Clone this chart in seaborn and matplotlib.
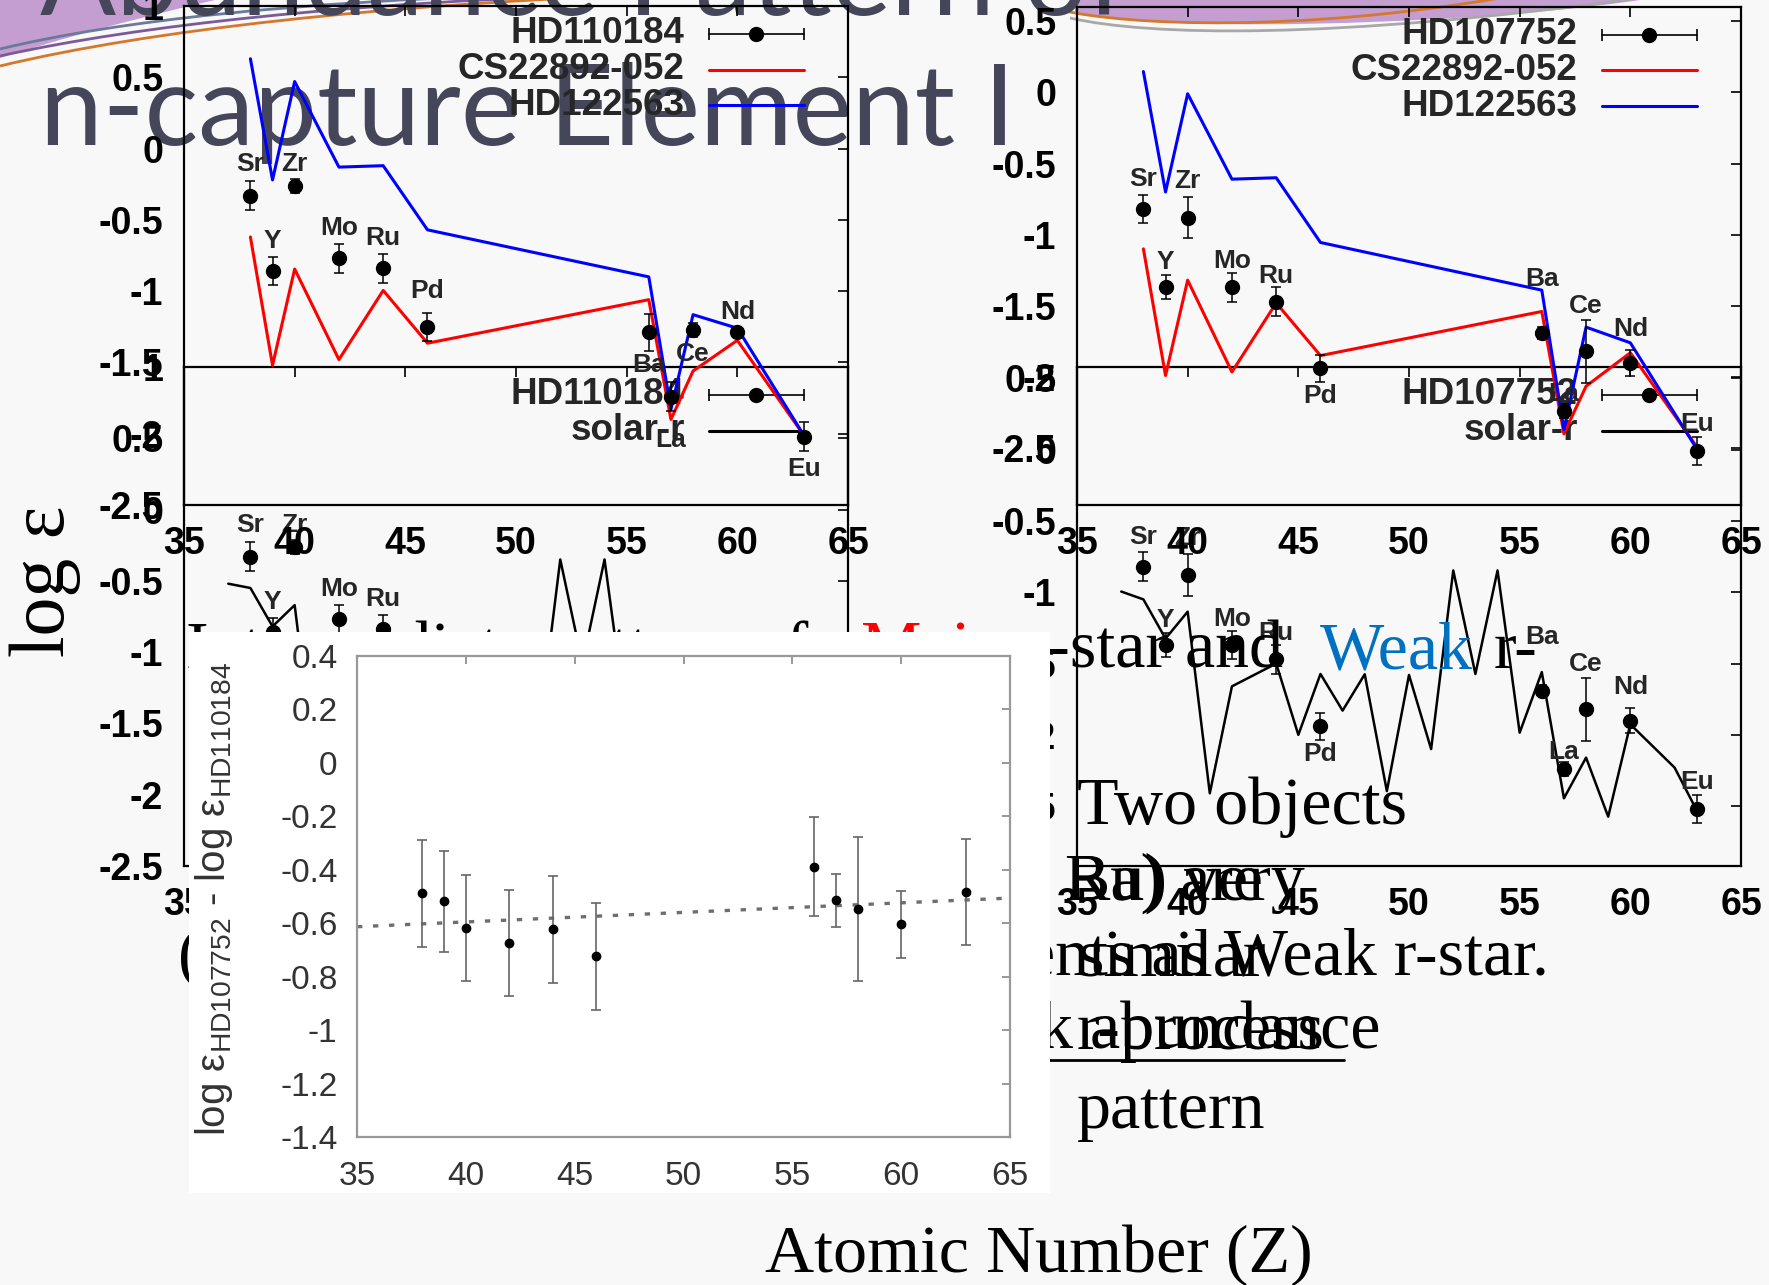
import numpy as np
import pandas as pd
import matplotlib
matplotlib.use("Agg")
import matplotlib.pyplot as plt
import seaborn as sns
from matplotlib.patches import Rectangle, PathPatch
from matplotlib.path import Path
from matplotlib.ticker import FuncFormatter, MultipleLocator

sns.set_theme(style="white")
plt.rcParams["font.family"] = ["Liberation Sans", "DejaVu Sans"]
plt.rcParams["axes.unicode_minus"] = False
plt.rcParams["mathtext.default"] = "regular"

# ---------------- data ----------------
elements = ["Sr", "Y", "Zr", "Mo", "Ru", "Pd", "Ba", "La", "Ce", "Nd", "Eu"]
z_elem = [38, 39, 40, 42, 44, 46, 56, 57, 58, 60, 63]

hd110184 = [-0.33, -0.86, -0.26, -0.77, -0.84, -1.25, -1.29, -1.74, -1.27, -1.29, -2.02]
hd110184_err = [0.10, 0.10, 0.05, 0.10, 0.10, 0.10, 0.13, 0.10, 0.05, 0.03, 0.10]

hd107752 = [-0.82, -1.37, -0.88, -1.37, -1.47, -1.94, -1.69, -2.24, -1.82, -1.90, -2.52]
hd107752_err = [0.10, 0.085, 0.145, 0.10, 0.10, 0.095, 0.04, 0.05, 0.22, 0.09, 0.10]

# comparison stars, scaled to HD110184 (left) and HD107752 (right)
cs22892_left = [-0.62, -1.52, -0.845, -1.48, -0.995, -1.365, -1.06, -1.90, -1.56, -1.345, -2.01]
hd122563_left = [0.63, -0.22, 0.47, -0.13, -0.12, -0.57, -0.90, -1.83, -1.165, -1.26, -2.01]
cs22892_right = [-1.10, -1.99, -1.32, -1.965, -1.48, -1.85, -1.54, -2.40, -2.065, -1.83, -2.49]
hd122563_right = [0.146, -0.70, -0.01, -0.61, -0.60, -1.055, -1.39, -2.37, -1.65, -1.76, -2.505]

# solar r-process pattern
z_solar = [37, 38, 39, 40, 41, 42, 44, 45, 46, 47, 48, 49, 50, 51, 52, 53, 54, 55,
           56, 57, 58, 59, 60, 62, 63]
solar_r_left = [-0.52, -0.55, -0.82, -0.67, -1.93, -1.17, -1.01, -1.52, -1.09, -1.34,
                -1.09, -1.91, -1.09, -1.61, -0.35, -1.08, -0.35, -1.50, -1.07, -1.96,
                -1.67, -2.09, -1.44, -1.74, -2.04]
solar_r_right = [-0.995, -1.05, -1.325, -1.136, -2.41, -1.66, -1.50, -2.00, -1.573, -1.83,
                 -1.575, -2.395, -1.58, -2.10, -0.847, -1.573, -0.847, -1.985, -1.56, -2.445,
                 -2.16, -2.574, -1.926, -2.23, -2.53]

# log eps(HD107752) - log eps(HD110184)
diff_vals = [-0.488, -0.518, -0.618, -0.674, -0.622, -0.723, -0.389, -0.514, -0.546, -0.604, -0.483]
diff_err = [0.20, 0.19, 0.20, 0.20, 0.20, 0.20, 0.185, 0.10, 0.27, 0.125, 0.20]

# ---------------- layout helpers ----------------
W, H, DPI = 1769, 1285, 100
PX = 72 / DPI
BG = "#f8f8f8"
TITLE_C = "#45465a"

fig = plt.figure(figsize=(W / DPI, H / DPI), dpi=DPI)
fig.patch.set_facecolor(BG)


def px_axes(x0, y0, x1, y1, z):
    return fig.add_axes([x0 / W, 1 - y1 / H, (x1 - x0) / W, (y1 - y0) / H], zorder=z)


def overlay(z):
    ax = px_axes(0, 0, W, H, z)
    ax.set_xlim(0, W)
    ax.set_ylim(H, 0)
    ax.axis("off")
    return ax


def fmt(v, pos):
    s = f"{round(v, 2):g}"
    return "0" if s == "-0" else s


# ---------------- background decoration and title ----------------
bg = overlay(0)
M, L, C, CL = Path.MOVETO, Path.LINETO, Path.CURVE4, Path.CLOSEPOLY
bg.add_patch(PathPatch(Path([(0, 0), (215, 0), (120, 22), (40, 45), (0, 58), (0, 0)],
                            [M, L, C, C, C, CL]), fc="#c49ed1", ec="none"))
bg.add_patch(PathPatch(Path([(1075, 0), (1640, 0), (1520, 18), (1330, 26), (1225, 24),
                             (1150, 22), (1100, 18), (1075, 12), (1075, 0)],
                            [M, L, C, C, C, C, C, C, CL]), fc="#c49ed1", ec="none"))
for pts, col in [([(0, 66), (150, 30), (380, 5), (640, -5)], "#d4782c"),
                 ([(0, 56), (140, 25), (350, 3), (600, -5)], "#7a5a98"),
                 ([(0, 49), (120, 20), (300, 2), (520, -5)], "#6a7a98"),
                 ([(1060, 10), (1130, 26), (1300, 32), (1500, -2)], "#d4782c"),
                 ([(1070, 18), (1150, 36), (1330, 40), (1640, -2)], "#a8a8a8")]:
    bg.add_patch(PathPatch(Path(pts, [M, C, C, C]), fc="none", ec=col, lw=2))

TITLE_FONT = ["Lato", "DejaVu Sans"]
bg.text(40, 15, "Abundance Pattern of", fontsize=81, family=TITLE_FONT,
        color=TITLE_C, va="baseline", ha="left")
bg.text(40, 145, "n-capture Element I", fontsize=81, family=TITLE_FONT,
        color=TITLE_C, va="baseline", ha="left")

# ---------------- abundance panels ----------------
offs_left = [32, 30, 22, 30, 30, 36, -33, -43, -24, 20, -32]
offs_right = [30, 25, 37, 26, 26, -28, 54, 17, 45, 34, 27]


def abundance_panel(box, ylim, z, star_vals, star_err, lines, offsets, legend_rows):
    ax = px_axes(*box, z)
    ax.patch.set_alpha(0)
    for zs, vals, color, lw in lines:
        df = pd.DataFrame({"Z": zs, "v": vals})
        sns.lineplot(data=df, x="Z", y="v", ax=ax, color=color, lw=lw, sort=False,
                     estimator=None, legend=False)
    ax.errorbar(z_elem, star_vals, yerr=star_err, fmt="o", color="black", ms=10,
                capsize=3.6, elinewidth=1.1, capthick=1.1, zorder=4)
    for el, zz, v, off in zip(elements, z_elem, star_vals, offsets):
        ax.annotate(el, (zz, v), xytext=(0, off * PX), textcoords="offset points",
                    ha="center", va="center", fontsize=19, fontweight="bold")
    ax.set_xlim(35, 65)
    ax.set_ylim(*ylim)
    ax.xaxis.set_major_locator(MultipleLocator(5))
    ax.yaxis.set_major_locator(MultipleLocator(0.5))
    ax.xaxis.set_major_formatter(FuncFormatter(fmt))
    ax.yaxis.set_major_formatter(FuncFormatter(fmt))
    ax.tick_params(direction="in", length=7, width=1.2, top=True, right=True,
                   labelsize=27, pad=15, colors="black")
    for lab in ax.get_xticklabels() + ax.get_yticklabels():
        lab.set_fontweight("bold")
    for s in ax.spines.values():
        s.set_color("black")
        s.set_linewidth(1.6)
    ax.set_xlabel("")
    ax.set_ylabel("")
    # key in the upper right
    tx, x0, x1 = 0.754, 0.79, 0.933
    for i, (label, kind, color) in enumerate(legend_rows):
        y = 0.944 - 0.0715 * i
        ax.text(tx, y, label, transform=ax.transAxes, ha="right", va="center",
                fontsize=26.5, fontweight="bold", clip_on=False)
        ax.plot([x0, x1], [y, y], transform=ax.transAxes, color=color,
                lw=1.2 if kind == "err" else 2.2, clip_on=False)
        if kind == "err":
            ax.plot([x0, x1], [y, y], transform=ax.transAxes, ls="none", marker="|",
                    ms=8, mew=1.2, color="black", clip_on=False)
            ax.plot([(x0 + x1) / 2], [y], transform=ax.transAxes, marker="o", ms=10,
                    color="black", clip_on=False)
    return ax


RED, BLUE = "#ff0000", "#0000ff"
abundance_panel((184, 367, 848, 866), (-2.5, 1.0), 1, hd110184, hd110184_err,
                [(z_solar, solar_r_left, "black", 1.8)], offs_left,
                [("HD110184", "err", "black"), ("solar-r", "line", "black")])
abundance_panel((1077, 367, 1741, 866), (-2.92, 0.58), 1, hd107752, hd107752_err,
                [(z_solar, solar_r_right, "black", 1.8)], offs_right,
                [("HD107752", "err", "black"), ("solar-r", "line", "black")])
abundance_panel((184, 6, 848, 505), (-2.5, 1.0), 2, hd110184, hd110184_err,
                [(z_elem, cs22892_left, RED, 2.2), (z_elem, hd122563_left, BLUE, 2.2)],
                offs_left,
                [("HD110184", "err", "black"), ("CS22892-052", "line", RED),
                 ("HD122563", "line", BLUE)])
abundance_panel((1077, 7, 1741, 505), (-2.9, 0.6), 2, hd107752, hd107752_err,
                [(z_elem, cs22892_right, RED, 2.2), (z_elem, hd122563_right, BLUE, 2.2)],
                offs_right,
                [("HD107752", "err", "black"), ("CS22892-052", "line", RED),
                 ("HD122563", "line", BLUE)])

# ---------------- body text ----------------
tx = overlay(5)
SERIF = ["Liberation Serif", "DejaVu Serif"]
body = dict(fontsize=49, family=SERIF, va="baseline", ha="left", color="black")
tx.text(186, 668, "Intermediate pattern of", **body)
tx.text(861, 668, "Main", **{**body, "color": "#ff0000"})
tx.text(1026, 668, "r-star and", **body)
tx.text(1320, 668, "Weak", **{**body, "color": "#0070c0"})
tx.text(1494, 668, "r-", **body)
tx.text(186, 741, "star", **body)
tx.text(1077, 824, "Two objects", **body)
tx.text(1065, 900, "Ba) are", **body)
tx.text(1065, 900, "Ru) very", **body)
tx.text(178, 975, "(", **body)
tx.text(1549, 975, "elements as Weak r-star.", **{**body, "ha": "right"})
tx.text(1077, 975, "similar", **body)
tx.text(1381, 1049, "Weak abundance", **{**body, "ha": "right"})
tx.text(1077, 1049, "r-process", **body)
tx.plot([1000, 1344], [1060, 1060], color="black", lw=2)
tx.text(1077, 1128, "pattern", **body)

# ---------------- difference inset ----------------
cover = overlay(6)
cover.add_patch(Rectangle((189, 632), 1050 - 189, 1193 - 632, fc="white", ec="none"))

ins = px_axes(357, 656, 1010, 1137, 7)
ins.set_facecolor("white")
ins.set_xlim(35, 65)
ins.set_ylim(-1.4, 0.4)
diff_df = pd.DataFrame({"Z": z_elem, "diff": diff_vals})
sns.regplot(data=diff_df, x="Z", y="diff", ax=ins, scatter=False, ci=None, truncate=False,
            line_kws=dict(color="#6e6e6e", lw=2.4, ls=(0, (1.6, 3.2))))
ins.errorbar(z_elem, diff_vals, yerr=diff_err, fmt="o", color="black", ecolor="#666666",
             ms=6, capsize=3.6, elinewidth=1.2, capthick=1.2, zorder=4)
ins.set_xlim(35, 65)
ins.set_ylim(-1.4, 0.4)
ins.xaxis.set_major_locator(MultipleLocator(5))
ins.yaxis.set_major_locator(MultipleLocator(0.2))
ins.xaxis.set_major_formatter(FuncFormatter(fmt))
ins.yaxis.set_major_formatter(FuncFormatter(fmt))
ins.tick_params(direction="in", length=6, width=1.2, top=True, right=True,
                labelsize=24, colors="#888888", labelcolor="#333333")
ins.tick_params(axis="y", pad=14)
ins.tick_params(axis="x", pad=17)
for s in ins.spines.values():
    s.set_color("#999999")
    s.set_linewidth(1.6)
ins.set_xlabel("")
ins.set_ylabel("")
cover2 = overlay(8)
cover2.text(214, 899, "log ε$_{HD107752}$ - log ε$_{HD110184}$", rotation=90,
            ha="center", va="center", fontsize=29, color="#333333")

# ---------------- axis captions ----------------
cover2.text(45, 581, "log ε", rotation=90, ha="center", va="center", fontsize=56,
            family=SERIF, color="black")
cover2.text(1039, 1272, "Atomic Number (Z)", ha="center", va="baseline", fontsize=49,
            family=SERIF, color="black")

fig.savefig("out.png", dpi=DPI, facecolor=fig.get_facecolor())
